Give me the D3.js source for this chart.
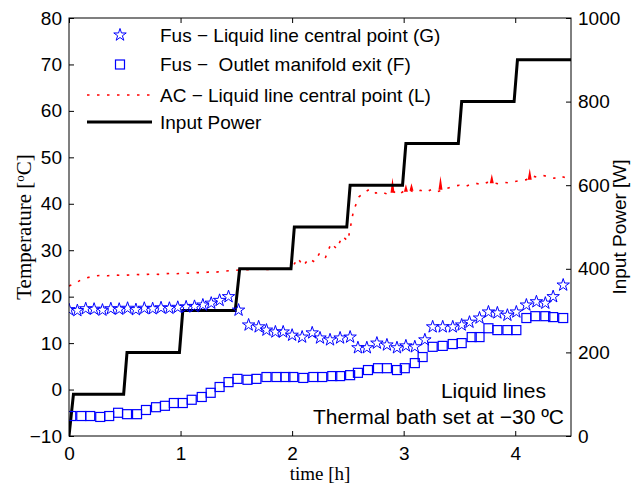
<!DOCTYPE html>
<html lang="en">
<head>
<meta charset="UTF-8">
<title>Liquid lines</title>
<script src="https://cdnjs.cloudflare.com/ajax/libs/d3/7.8.5/d3.min.js"></script>
<style>
  body { margin: 0; background: #fff; }
  text { font-family: "Liberation Sans", Arial, sans-serif; }
  .serif { font-family: "Liberation Serif", "Times New Roman", serif; }
</style>
</head>
<body>
<svg id="chart" width="643" height="492"></svg>
<script>
// --- data ---
const tempTicks = [-10, 0, 10, 20, 30, 40, 50, 60, 70, 80];
const powerTicks = [0, 200, 400, 600, 800, 1000];
const timeTicks = [0, 1, 2, 3, 4];

// Fus - Liquid line central point (G)
const starTime = [0, 0.075, 0.15, 0.225, 0.3, 0.375, 0.45, 0.525, 0.6, 0.675, 0.75, 0.825, 0.9, 0.975,
  1.05, 1.125, 1.2, 1.275, 1.35, 1.43, 1.52, 1.61, 1.70, 1.77, 1.85, 1.92, 2.0, 2.09, 2.18, 2.25,
  2.34, 2.43, 2.52, 2.59, 2.67, 2.76, 2.85, 2.94, 3.02, 3.1, 3.19, 3.26, 3.35, 3.44, 3.52, 3.59,
  3.68, 3.76, 3.84, 3.93, 4.01, 4.1, 4.19, 4.27, 4.34, 4.43];
const starTemp = [17.2, 17.0, 17.4, 17.3, 17.1, 17.4, 17.3, 17.5, 17.2, 17.5, 17.4, 17.6, 17.5, 17.7,
  17.8, 17.9, 18.2, 18.6, 19.2, 20.0, 17.1, 13.9, 13.5, 12.8, 12.4, 12.4, 11.7, 11.3, 12.2, 11.1,
  10.7, 11.1, 11.3, 9.0, 9.0, 10.0, 9.6, 9.0, 9.4, 9.2, 10.7, 13.5, 13.5, 13.5, 13.9, 14.5,
  15.4, 16.7, 16.5, 16.0, 16.7, 18.2, 18.9, 18.6, 20.0, 22.5];

// Fus - Outlet manifold exit (F)
const squareTime = [0.02, 0.11, 0.19, 0.28, 0.36, 0.44, 0.52, 0.61, 0.69, 0.78, 0.86, 0.94, 1.02, 1.1,
  1.19, 1.27, 1.35, 1.43, 1.51, 1.6, 1.68, 1.77, 1.86, 1.94, 2.01, 2.1, 2.19, 2.27, 2.36, 2.43,
  2.52, 2.59, 2.68, 2.77, 2.85, 2.94, 3.01, 3.1, 3.17, 3.26, 3.35, 3.44, 3.52, 3.61, 3.68, 3.76,
  3.84, 3.93, 4.01, 4.1, 4.18, 4.27, 4.34, 4.43];
const squareTemp = [-5.7, -5.7, -5.7, -5.9, -5.7, -5.0, -5.3, -5.3, -4.4, -3.8, -3.5, -2.9, -2.9, -2.2,
  -1.6, -0.7, 0.55, 1.6, 2.3, 2.1, 2.3, 2.7, 2.7, 2.7, 2.7, 2.5, 2.7, 2.7, 2.9, 2.9,
  3.1, 3.6, 4.2, 4.6, 4.6, 4.2, 4.6, 5.7, 7.0, 9.2, 9.4, 9.8, 10.0, 11.3, 11.3, 13.2,
  12.8, 12.8, 12.8, 15.4, 15.8, 15.8, 15.6, 15.4];

// AC - Liquid line central point (L)
const acTime = [0, 0.05, 0.1, 0.15, 0.2, 0.25, 0.3, 0.35, 0.4, 0.45, 0.5, 0.55, 0.6, 0.65, 0.7, 0.75,
  0.8, 0.85, 0.9, 0.95, 1.0, 1.05, 1.1, 1.15, 1.2, 1.25, 1.3, 1.35, 1.4, 1.45, 1.5, 1.55, 1.6, 1.65,
  1.7, 1.75, 1.8, 1.85, 1.9, 1.95, 2.0, 2.05, 2.1, 2.15, 2.2, 2.25, 2.3, 2.35, 2.4, 2.45, 2.5, 2.55,
  2.6, 2.65, 2.7, 2.75, 2.8, 2.85, 2.9, 2.95, 3.0, 3.05, 3.1, 3.15, 3.2, 3.25, 3.3, 3.35, 3.4, 3.45,
  3.5, 3.55, 3.6, 3.65, 3.7, 3.75, 3.8, 3.85, 3.9, 3.95, 4.0, 4.05, 4.1, 4.15, 4.2, 4.25, 4.3, 4.35,
  4.4, 4.45, 4.5];
const acTemp = [22.3, 22.8, 23.5, 24.0, 24.3, 24.5, 24.6, 24.5, 24.7, 24.6, 24.6, 24.7, 24.8, 24.7, 24.8, 24.9,
  24.8, 24.9, 25.0, 24.9, 25.0, 25.1, 25.0, 25.2, 25.1, 25.3, 25.2, 25.4, 25.5, 25.6, 25.7, 25.8, 25.8, 25.9,
  25.9, 25.8, 25.9, 26.0, 25.9, 26.0, 26.2, 28.3, 26.6, 28.2, 27.5, 29.5, 28.5, 31.5, 30.3, 33.0, 32.0, 38.5,
  41.5, 42.5, 43.2, 42.3, 42.6, 42.1, 42.8, 41.9, 42.7, 43.0, 42.4, 42.9, 42.5, 43.1, 42.6, 43.0, 43.4, 43.8,
  44.0, 43.7, 44.2, 44.4, 44.1, 44.6, 44.5, 44.3, 44.6, 44.5, 44.8, 45.0, 45.2, 46.0, 45.7, 46.1, 45.8, 45.5,
  46.0, 45.6, 46.1];
// short noise spikes on the AC trace: time, base, peak
const spikeTime = [2.9, 3.02, 3.07, 3.33, 3.79, 4.13];
const spikeBase = [42.4, 42.6, 42.8, 43.0, 44.4, 45.2];
const spikePeak = [45.6, 44.2, 44.4, 46.0, 46.4, 47.6];

// Input power (stepped)
const powerTime = [0, 0.04, 0.49, 0.52, 0.99, 1.02, 1.49, 1.53, 1.99, 2.02, 2.49, 2.52, 2.99, 3.02,
  3.49, 3.52, 3.99, 4.02, 4.5];
const powerW = [0, 100, 100, 200, 200, 300, 300, 400, 400, 500, 500, 600, 600, 700,
  700, 800, 800, 900, 900];

// --- layout ---
const margin = {left: 69, right: 72, top: 18, bottom: 56};
const W = 643, H = 492;
const svg = d3.select("#chart");

const x = d3.scaleLinear().domain([0, 4.5]).range([margin.left, W - margin.right]);
const yT = d3.scaleLinear().domain([-10, 80]).range([H - margin.bottom, margin.top]);
const yP = d3.scaleLinear().domain([0, 1000]).range([H - margin.bottom, margin.top]);

const plot = svg.append("g");
svg.append("clipPath").attr("id", "clip").append("rect")
  .attr("x", margin.left).attr("y", margin.top)
  .attr("width", W - margin.left - margin.right).attr("height", H - margin.top - margin.bottom);
plot.attr("clip-path", "url(#clip)");

// AC dotted trace
const acLine = d3.line().x((d, i) => x(acTime[i])).y(d => yT(d));
plot.append("path")
  .attr("d", acLine(acTemp))
  .attr("fill", "none")
  .attr("stroke", "#ff0000")
  .attr("stroke-width", 1.6)
  .attr("stroke-dasharray", "2.5,7.5");

plot.selectAll(".spike")
  .data(spikeTime)
  .enter().append("path")
  .attr("class", "spike")
  .attr("d", (d, i) => `M${x(d) - 2},${yT(spikeBase[i])}L${x(d)},${yT(spikePeak[i])}L${x(d) + 2},${yT(spikeBase[i])}Z`)
  .attr("fill", "#ff0000");

// power steps
const pLine = d3.line().x((d, i) => x(powerTime[i])).y(d => yP(d));
plot.append("path")
  .attr("d", pLine(powerW))
  .attr("fill", "none")
  .attr("stroke", "#000")
  .attr("stroke-width", 3);

// squares
plot.selectAll(".sq")
  .data(squareTemp)
  .enter().append("rect")
  .attr("class", "sq")
  .attr("x", (d, i) => x(squareTime[i]) - 4.5)
  .attr("y", d => yT(d) - 4.5)
  .attr("width", 9).attr("height", 9)
  .attr("fill", "none")
  .attr("stroke", "#0000ff")
  .attr("stroke-width", 1.2);

// stars
const star = d3.symbol().type(d3.symbolStar).size(48);
plot.selectAll(".star")
  .data(starTemp)
  .enter().append("path")
  .attr("class", "star")
  .attr("d", star)
  .attr("transform", (d, i) => `translate(${x(starTime[i])},${yT(d)})`)
  .attr("fill", "none")
  .attr("stroke", "#0000ff")
  .attr("stroke-width", 1);

// frame
svg.append("rect")
  .attr("x", margin.left).attr("y", margin.top)
  .attr("width", W - margin.left - margin.right).attr("height", H - margin.top - margin.bottom)
  .attr("fill", "none").attr("stroke", "#000").attr("stroke-width", 1);

// axes (ticks inward)
function styleAxis(g) {
  g.select(".domain").remove();
  g.selectAll("line").attr("stroke", "#000");
  g.selectAll("text").attr("font-size", 19).attr("fill", "#000")
    .attr("font-family", "Liberation Sans, Arial, sans-serif");
}
svg.append("g").attr("transform", `translate(${margin.left},0)`)
  .call(d3.axisLeft(yT).tickValues(tempTicks).tickSizeInner(-5).tickPadding(7).tickFormat(d => d < 0 ? "\u2212" + (-d) : d))
  .call(styleAxis);
svg.append("g").attr("transform", `translate(${W - margin.right},0)`)
  .call(d3.axisRight(yP).tickValues(powerTicks).tickSizeInner(-5).tickPadding(7).tickFormat(d3.format("d")))
  .call(styleAxis);
svg.append("g").attr("transform", `translate(0,${H - margin.bottom})`)
  .call(d3.axisBottom(x).tickValues(timeTicks).tickSizeInner(-5).tickPadding(11).tickFormat(d3.format("d")))
  .call(styleAxis);
svg.append("g").attr("transform", `translate(0,${margin.top})`)
  .call(d3.axisTop(x).tickValues(timeTicks).tickSizeInner(-5).tickFormat(""))
  .call(styleAxis);

// axis titles
svg.append("text").attr("class", "serif")
  .attr("x", (margin.left + W - margin.right) / 2).attr("y", 480)
  .attr("text-anchor", "middle").attr("font-size", 19).text("time [h]");
svg.append("text").attr("class", "serif")
  .attr("transform", `translate(31,${(margin.top + H - margin.bottom) / 2}) rotate(-90)`)
  .attr("text-anchor", "middle").attr("font-size", 21)
  .html('Temperature [<tspan baseline-shift="super" font-size="13">o</tspan>C]');
svg.append("text")
  .attr("transform", `translate(626,${(margin.top + H - margin.bottom) / 2}) rotate(-90)`)
  .attr("text-anchor", "middle").attr("font-size", 19).text("Input Power [W]");

// legend
const legend = svg.append("g");
const lx = 120, ltx = 160;
legend.append("path").attr("d", star()).attr("transform", `translate(${lx},35)`)
  .attr("fill", "none").attr("stroke", "#0000ff");
legend.append("text").attr("x", ltx).attr("y", 42).attr("font-size", 19).text("Fus \u2212 Liquid line central point (G)");
legend.append("rect").attr("x", lx - 4.5).attr("y", 60).attr("width", 9).attr("height", 9)
  .attr("fill", "none").attr("stroke", "#0000ff").attr("stroke-width", 1.2);
legend.append("text").attr("x", ltx).attr("y", 71).attr("font-size", 19).attr("xml:space", "preserve")
  .text("Fus \u2212  Outlet manifold exit (F)");
legend.append("line").attr("x1", 87).attr("x2", 152).attr("y1", 95).attr("y2", 95)
  .attr("stroke", "#ff0000").attr("stroke-width", 1.6).attr("stroke-dasharray", "2.5,7.5");
legend.append("text").attr("x", ltx).attr("y", 102).attr("font-size", 19).text("AC \u2212 Liquid line central point (L)");
legend.append("line").attr("x1", 87).attr("x2", 152).attr("y1", 122).attr("y2", 122)
  .attr("stroke", "#000").attr("stroke-width", 3);
legend.append("text").attr("x", ltx).attr("y", 129).attr("font-size", 19).text("Input Power");

// annotation
svg.append("text").attr("x", 546).attr("y", 398).attr("text-anchor", "end")
  .attr("font-size", 21).text("Liquid lines");
svg.append("text").attr("x", 564).attr("y", 424).attr("text-anchor", "end")
  .attr("font-size", 21).text("Thermal bath set at \u221230 \u00baC");
</script>
</body>
</html>
